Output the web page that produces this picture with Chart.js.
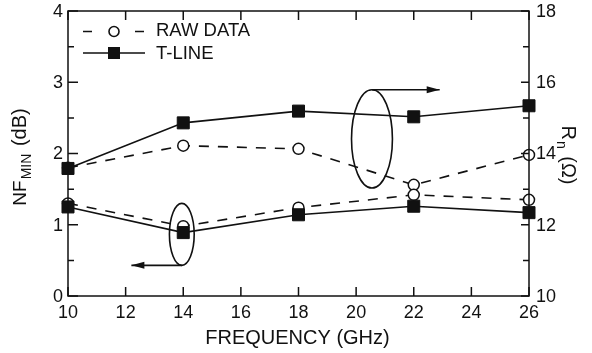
<!DOCTYPE html>
<html>
<head>
<meta charset="utf-8">
<script src="https://cdn.jsdelivr.net/npm/chart.js@4/dist/chart.umd.min.js"></script>
<style>
html, body { margin: 0; padding: 0; background: #fff; }
#wrap { width: 592px; height: 353px; }
</style>
</head>
<body>
<div id="wrap"><canvas id="chart" width="592" height="353"></canvas></div>
<script>
// values
const freq = [10, 14, 18, 22, 26];
const nfRaw = [1.30, 0.98, 1.24, 1.42, 1.35];
const nfTline = [1.25, 0.89, 1.14, 1.26, 1.17];
const rnRaw = [13.60, 14.22, 14.13, 13.12, 13.96];
const rnTline = [13.58, 14.86, 15.19, 15.03, 15.34];

const xTicks = [10, 12, 14, 16, 18, 20, 22, 24, 26];
const nfTicks = [0, 1, 2, 3, 4];
const nfMinor = [0.5, 1.5, 2.5, 3.5];
const rnTicks = [10, 12, 14, 16, 18];
const rnMinor = [11, 13, 15, 17];

const FONT = '"Liberation Sans", Arial, sans-serif';
const INK = '#111';

function pts(ys){ return freq.map((f, i) => ({ x: f, y: ys[i] })); }

function ds(label, ys, axis, dashed, square){
    return {
        label: label,
        data: pts(ys),
        yAxisID: axis,
        borderColor: INK,
        borderWidth: 1.6,
        borderDash: dashed ? [10, 9] : [],
        pointStyle: square ? 'rect' : 'circle',
        pointRadius: square ? 8.5 : 5.5,
        pointBorderWidth: square ? 1 : 1.5,
        pointBackgroundColor: square ? INK : '#fff',
        pointBorderColor: INK,
        tension: 0,
        clip: false
    };
}

// ellipse + arrow annotations, in data units
const ovals = [
    { axis: 'y1', cx: 20.55, cy: 14.41, rx: 0.71, ry: 1.38, arrowTo: 22.9, top: true },
    { axis: 'y', cx: 13.95, cy: 0.865, rx: 0.43, ry: 0.435, arrowTo: 12.2, top: false }
];

function arrow(c, x0, y, x1){
    c.beginPath();
    c.moveTo(x0, y); c.lineTo(x1, y); c.stroke();
    const d = x1 > x0 ? 1 : -1;
    c.beginPath();
    c.moveTo(x1, y);
    c.lineTo(x1 - d * 13, y - 3.5);
    c.lineTo(x1 - d * 13, y + 3.5);
    c.closePath();
    c.fill();
}

// parts: [text, size, shift, gapAfter]; draws along +x from 0
function richText(c, parts){
    let x = 0;
    parts.forEach(p => {
        c.font = p[1] + 'px ' + FONT;
        c.fillText(p[0], x, p[2]);
        x += c.measureText(p[0]).width + (p[3] || 0);
    });
    return x;
}
function richWidth(c, parts){
    let w = 0;
    parts.forEach(p => { c.font = p[1] + 'px ' + FONT; w += c.measureText(p[0]).width + (p[3] || 0); });
    return w;
}

const frame = {
    id: 'frame',
    afterDraw(chart){
        const c = chart.ctx;
        const a = chart.chartArea;
        const sx = chart.scales.x, sy = chart.scales.y, sr = chart.scales.y1;
        c.save();
        c.strokeStyle = INK;
        c.fillStyle = INK;
        c.lineWidth = 1.5;

        // box
        c.strokeRect(a.left, a.top, a.right - a.left, a.bottom - a.top);

        // ticks (inward)
        c.beginPath();
        xTicks.forEach(v => {
            const x = sx.getPixelForValue(v);
            c.moveTo(x, a.bottom); c.lineTo(x, a.bottom - 9);
            c.moveTo(x, a.top); c.lineTo(x, a.top + 9);
        });
        nfTicks.forEach(v => { const y = sy.getPixelForValue(v); c.moveTo(a.left, y); c.lineTo(a.left + 10, y); });
        nfMinor.forEach(v => { const y = sy.getPixelForValue(v); c.moveTo(a.left, y); c.lineTo(a.left + 6, y); });
        rnTicks.forEach(v => { const y = sr.getPixelForValue(v); c.moveTo(a.right, y); c.lineTo(a.right - 8, y); });
        rnMinor.forEach(v => { const y = sr.getPixelForValue(v); c.moveTo(a.right, y); c.lineTo(a.right - 6, y); });
        c.stroke();

        // tick labels
        c.font = '18px ' + FONT;
        c.textBaseline = 'middle';
        c.textAlign = 'center';
        xTicks.forEach(v => c.fillText(String(v), sx.getPixelForValue(v), a.bottom + 17));
        c.textAlign = 'right';
        nfTicks.forEach(v => c.fillText(String(v), a.left - 5, sy.getPixelForValue(v) + 1));
        c.textAlign = 'left';
        rnTicks.forEach(v => c.fillText(String(v), a.right + 7, sr.getPixelForValue(v) + 1));

        // axis titles
        c.font = '20px ' + FONT;
        c.textAlign = 'center';
        c.fillText('FREQUENCY (GHz)', (a.left + a.right) / 2 - 1, a.bottom + 42);

        c.textAlign = 'left';
        c.textBaseline = 'alphabetic';
        const nfParts = [['NF', 19, 0, 1], ['MIN', 14, 5, 2], [' (dB)', 20, 0]];
        c.save();
        c.translate(26, 157 + richWidth(c, nfParts) / 2);
        c.rotate(-Math.PI / 2);
        richText(c, nfParts);
        c.restore();

        const rnParts = [['R', 20, 0, 1], ['n', 14, 5, 2], [' (\u03A9)', 20, 0]];
        c.save();
        c.translate(562, 155 - richWidth(c, rnParts) / 2);
        c.rotate(Math.PI / 2);
        richText(c, rnParts);
        c.restore();

        // legend
        c.lineWidth = 1.6;
        c.beginPath();
        c.moveTo(83, 31.5); c.lineTo(92, 31.5);
        c.moveTo(135, 31.5); c.lineTo(144, 31.5);
        c.moveTo(83, 53); c.lineTo(145, 53);
        c.stroke();
        c.beginPath();
        c.arc(114, 31.5, 5, 0, Math.PI * 2);
        c.fillStyle = '#fff'; c.fill(); c.stroke();
        c.fillStyle = INK;
        c.fillRect(108, 47, 12, 12);
        c.font = '18.5px ' + FONT;
        c.textBaseline = 'middle';
        c.fillText('RAW DATA', 156, 31);
        c.fillText('T-LINE', 156, 54);

        // ovals and arrows
        c.lineWidth = 1.6;
        ovals.forEach(o => {
            const sc = chart.scales[o.axis];
            const cx = sx.getPixelForValue(o.cx), cy = sc.getPixelForValue(o.cy);
            const rx = Math.abs(sx.getPixelForValue(o.cx + o.rx) - cx);
            const ry = Math.abs(sc.getPixelForValue(o.cy + o.ry) - cy);
            c.beginPath();
            c.ellipse(cx, cy, rx, ry, 0, 0, Math.PI * 2);
            c.stroke();
            const ay = o.top ? cy - ry : cy + ry;
            arrow(c, cx, ay, sx.getPixelForValue(o.arrowTo));
        });

        c.restore();
    }
};

const ctx = document.getElementById('chart').getContext('2d');

const chart = new Chart(ctx, {
    type: 'line',
    data: {
        datasets: [
            ds('T-LINE NF', nfTline, 'y', false, true),
            ds('T-LINE Rn', rnTline, 'y1', false, true),
            ds('RAW DATA NF', nfRaw, 'y', true, false),
            ds('RAW DATA Rn', rnRaw, 'y1', true, false)
        ]
    },
    options: {
        responsive: false,
        devicePixelRatio: 1,
        animation: false,
        layout: { autoPadding: false, padding: { left: 68, top: 11, right: 63, bottom: 57 } },
        plugins: { legend: { display: false }, tooltip: { enabled: false } },
        scales: {
            x: { type: 'linear', min: 10, max: 26, display: false },
            y: { min: 0, max: 4, display: false },
            y1: { min: 10, max: 18, display: false, position: 'right' }
        }
    },
    plugins: [frame]
});
</script>
</body>
</html>
